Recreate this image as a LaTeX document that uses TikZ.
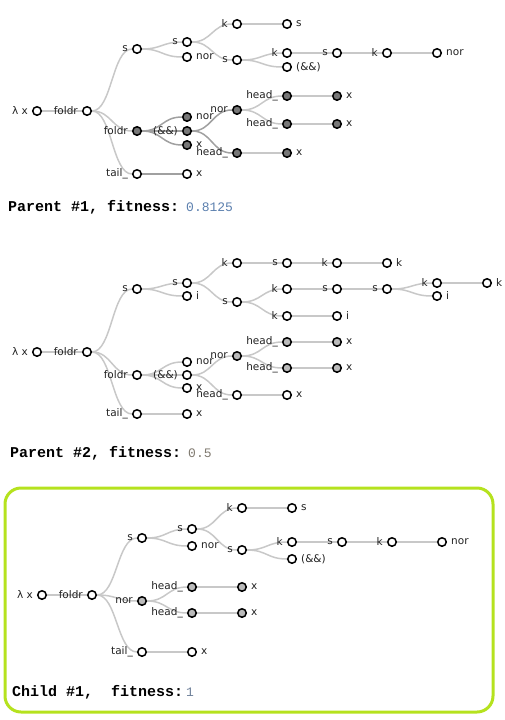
\documentclass[tikz,border=0pt]{standalone}
\usepackage{fontspec}
\setmainfont{DejaVu Sans}
\newfontfamily\monofont{Liberation Mono}
\usetikzlibrary{backgrounds}
\definecolor{linkgrey}{HTML}{C8C8C8}
\definecolor{darklink}{HTML}{A0A0A0}
\definecolor{darkfill}{HTML}{777777}
\definecolor{lightfill}{HTML}{BBBBBB}
\definecolor{labeltext}{HTML}{222222}
\definecolor{boxgreen}{HTML}{B5E21E}
\definecolor{valone}{HTML}{5B7FAE}
\definecolor{valtwo}{HTML}{807A70}
\definecolor{valthree}{HTML}{6D7F99}
\begin{document}
\begin{tikzpicture}[x=1pt,y=-1pt,
    tnode/.style={circle,draw=black,line width=1.5pt,fill=white,minimum size=8.5pt,inner sep=0pt},
    dnode/.style={tnode,fill=darkfill},
    gnode/.style={tnode,fill=lightfill},
    every label/.style={font=\fontsize{10.5}{12}\selectfont,text=labeltext,inner sep=0pt},
    label distance=4pt,
    link/.style={draw=linkgrey,line width=1.5pt},
    dlink/.style={draw=darklink,line width=1.5pt},
    title/.style={anchor=base west,inner sep=0pt,font=\monofont\bfseries\fontsize{15}{18}\selectfont,text=black},
    value/.style={anchor=base west,inner sep=0pt,font=\monofont\fontsize{13}{16}\selectfont}]
\useasboundingbox (0,0) rectangle (505,720);

% parent 1
\node[tnode,label=left:λ x] (r1) at (37,111) {};
\node[tnode,label=left:foldr] (f1) at (87,111) {};
\node[tnode,label=left:s] (s1) at (137,49) {};
\node[dnode,label=left:foldr] (g1) at (137,131) {};
\node[tnode,label=left:tail\_] (t1) at (137,174) {};
\node[tnode,label=left:s] (ss1) at (187,42) {};
\node[tnode,label=right:nor] (n1) at (187,57) {};
\node[dnode,label=right:nor] (gn1) at (187,117) {};
\node[dnode,label=left:(\&\&)] (ga1) at (187,131) {};
\node[dnode,label=right:x] (gx1) at (187,145) {};
\node[tnode,label=right:x] (tx1) at (187,174) {};
\node[tnode,label=left:k] (k1) at (237,24) {};
\node[tnode,label=left:s] (sb1) at (237,60) {};
\node[dnode,label=left:nor] (gno1) at (237,110) {};
\node[dnode,label=left:head\_] (gh1) at (237,153) {};
\node[tnode,label=right:s] (ks1) at (287,24) {};
\node[tnode,label=left:k] (kk1) at (287,53) {};
\node[tnode,label=right:(\&\&)] (aa1) at (287,67) {};
\node[dnode,label=left:head\_] (gha1) at (287,96) {};
\node[dnode,label=left:head\_] (ghb1) at (287,124) {};
\node[dnode,label=right:x] (ghx1) at (287,153) {};
\node[tnode,label=left:s] (sc1) at (337,53) {};
\node[dnode,label=right:x] (gxa1) at (337,96) {};
\node[dnode,label=right:x] (gxb1) at (337,124) {};
\node[tnode,label=left:k] (kc1) at (387,53) {};
\node[tnode,label=right:nor] (nr1) at (437,53) {};
\node[title] (h1) at (8,211) {Parent \#1, fitness:};
\node[value,text=valone] (v1) at (186,211) {0.8125};

% parent 2
\node[tnode,label=left:λ x] (r2) at (37,352) {};
\node[tnode,label=left:foldr] (f2) at (87,352) {};
\node[tnode,label=left:s] (s2) at (137,289) {};
\node[tnode,label=left:foldr] (fo2) at (137,375) {};
\node[tnode,label=left:tail\_] (t2) at (137,414) {};
\node[tnode,label=left:s] (ss2) at (187,283) {};
\node[tnode,label=right:i] (i2) at (187,296) {};
\node[tnode,label=right:nor] (n2) at (187,362) {};
\node[tnode,label=left:(\&\&)] (a2) at (187,375) {};
\node[tnode,label=right:x] (x2) at (187,388) {};
\node[tnode,label=right:x] (tx2) at (187,414) {};
\node[tnode,label=left:k] (k2) at (237,263) {};
\node[tnode,label=left:s] (sb2) at (237,302) {};
\node[gnode,label=left:nor] (gn2) at (237,356) {};
\node[tnode,label=left:head\_] (h2) at (237,395) {};
\node[tnode,label=left:s] (sc2) at (287,263) {};
\node[tnode,label=left:k] (kk2) at (287,289) {};
\node[tnode,label=left:k] (kb2) at (287,316) {};
\node[gnode,label=left:head\_] (gha2) at (287,342) {};
\node[gnode,label=left:head\_] (ghb2) at (287,368) {};
\node[tnode,label=right:x] (hx2) at (287,395) {};
\node[tnode,label=left:k] (kd2) at (337,263) {};
\node[tnode,label=left:s] (sd2) at (337,289) {};
\node[tnode,label=right:i] (ib2) at (337,316) {};
\node[gnode,label=right:x] (gxa2) at (337,342) {};
\node[gnode,label=right:x] (gxb2) at (337,368) {};
\node[tnode,label=right:k] (kl2) at (387,263) {};
\node[tnode,label=left:s] (se2) at (387,289) {};
\node[tnode,label=left:k] (kf2) at (437,283) {};
\node[tnode,label=right:i] (if2) at (437,296) {};
\node[tnode,label=right:k] (kg2) at (487,283) {};
\node[title] (h2t) at (10,457) {Parent \#2, fitness:};
\node[value,text=valtwo] (v2) at (188,457) {0.5};

% child
\draw[boxgreen,line width=3pt,rounded corners=16pt] (5,488) rectangle (493,712);
\node[tnode,label=left:λ x] (r3) at (42,595) {};
\node[tnode,label=left:foldr] (f3) at (92,595) {};
\node[tnode,label=left:s] (s3) at (142,538) {};
\node[gnode,label=left:nor] (gn3) at (142,601) {};
\node[tnode,label=left:tail\_] (t3) at (142,652) {};
\node[tnode,label=left:s] (ss3) at (192,529) {};
\node[tnode,label=right:nor] (n3) at (192,546) {};
\node[gnode,label=left:head\_] (gha3) at (192,587) {};
\node[gnode,label=left:head\_] (ghb3) at (192,613) {};
\node[tnode,label=right:x] (tx3) at (192,652) {};
\node[tnode,label=left:k] (k3) at (242,508) {};
\node[tnode,label=left:s] (sb3) at (242,550) {};
\node[gnode,label=right:x] (gxa3) at (242,587) {};
\node[gnode,label=right:x] (gxb3) at (242,613) {};
\node[tnode,label=right:s] (ks3) at (292,508) {};
\node[tnode,label=left:k] (kk3) at (292,542) {};
\node[tnode,label=right:(\&\&)] (aa3) at (292,559) {};
\node[tnode,label=left:s] (sc3) at (342,542) {};
\node[tnode,label=left:k] (kc3) at (392,542) {};
\node[tnode,label=right:nor] (nr3) at (442,542) {};
\node[title] (h3) at (12,696) {Child \#1,~~fitness:};
\node[value,text=valthree] (v3) at (186,696) {1};

% links
\begin{scope}[on background layer]
\foreach \a/\b in {r1/f1,f1/s1,f1/g1,f1/t1,s1/ss1,s1/n1,ss1/k1,ss1/sb1,k1/ks1,sb1/kk1,sb1/aa1,kk1/sc1,sc1/kc1,kc1/nr1,
    gno1/gha1,gno1/ghb1,gha1/gxa1,ghb1/gxb1,gh1/ghx1,
    r2/f2,f2/s2,f2/fo2,f2/t2,s2/ss2,s2/i2,fo2/n2,fo2/a2,fo2/x2,t2/tx2,ss2/k2,ss2/sb2,a2/gn2,a2/h2,
    k2/sc2,sc2/kd2,kd2/kl2,sb2/kk2,sb2/kb2,kk2/sd2,sd2/se2,se2/kf2,se2/if2,kf2/kg2,kb2/ib2,
    gn2/gha2,gn2/ghb2,gha2/gxa2,ghb2/gxb2,h2/hx2,
    r3/f3,f3/s3,f3/gn3,f3/t3,s3/ss3,s3/n3,ss3/k3,ss3/sb3,k3/ks3,sb3/kk3,sb3/aa3,kk3/sc3,sc3/kc3,kc3/nr3,
    gn3/gha3,gn3/ghb3,gha3/gxa3,ghb3/gxb3,t3/tx3}
  \draw[link] (\a) .. controls +(25,0) and +(-25,0) .. (\b);
\foreach \a/\b in {g1/gn1,g1/ga1,g1/gx1,ga1/gno1,ga1/gh1,t1/tx1}
  \draw[dlink] (\a) .. controls +(25,0) and +(-25,0) .. (\b);
\end{scope}
\end{tikzpicture}
\end{document}
